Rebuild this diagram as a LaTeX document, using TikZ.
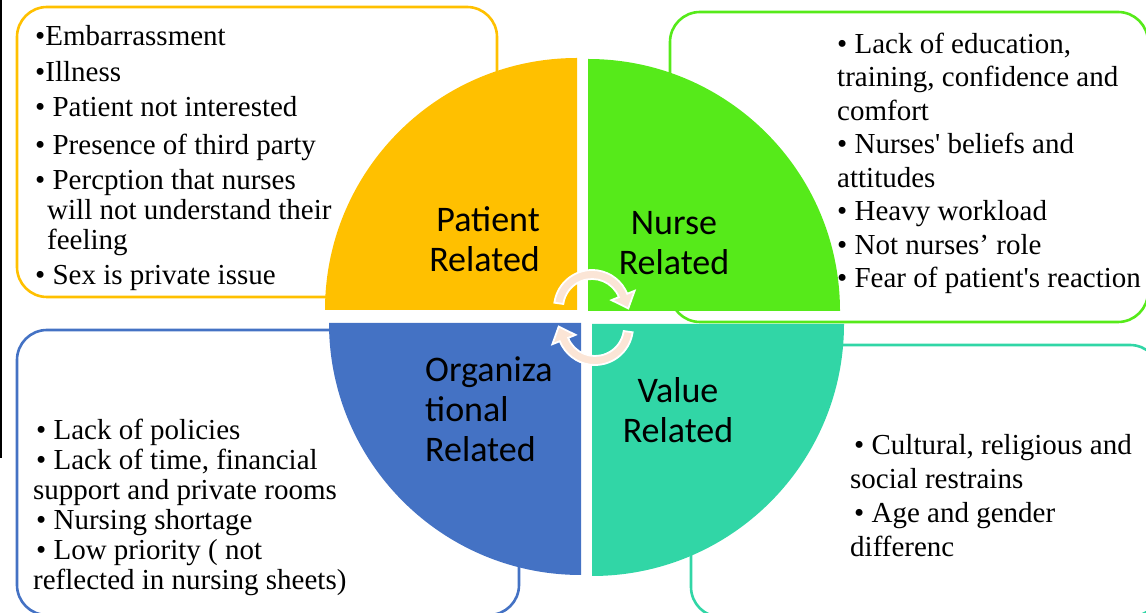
\documentclass[tikz,border=0pt]{standalone}
\usepackage{fontspec}
\setmainfont{Liberation Serif}
\newfontfamily\labelfont{Carlito}
\usetikzlibrary{calc}
\definecolor{patyellow}{RGB}{255,192,0}
\definecolor{nurgreen}{RGB}{86,234,26}
\definecolor{orgblue}{RGB}{68,114,196}
\definecolor{valteal}{RGB}{49,214,166}
\definecolor{cyclepeach}{RGB}{251,229,214}

\begin{document}
\begin{tikzpicture}[x=1pt,y=1pt]
	\tikzstyle{listbox} = [rounded corners=30pt,line width=2.6pt];
	\tikzstyle{listtext} = [anchor=base west,align=left,inner sep=0pt];
	\tikzstyle{sectorlabel} = [font=\labelfont\fontsize{36}{40}\selectfont,inner sep=0pt];
	\tikzstyle{cyclearrow} = [fill=cyclepeach,draw=white,line width=1.8pt];
	\useasboundingbox (0,0) rectangle (1146,613);
	\clip (0,0) rectangle (1146,613);
	% outlined boxes behind the circle
	\draw[listbox,draw=patyellow] (17,316) rectangle (497,606);
	\draw[listbox,draw=nurgreen] (670,291) rectangle (1148,601);
	\draw[listbox,draw=orgblue] (17,-2) rectangle (519,283);
	\draw[listbox,draw=valteal] (691,-4) rectangle (1160,268);
	\draw[line width=1.8pt] (0.9,613) -- (0.9,155);
	% lists (base = last line)
	\node[listtext,font=\fontsize{29}{30}\selectfont] (patlist) at (35,328) {•Embarrassment\\[6pt]•Illness\\[5pt]• Patient not interested\\[8pt]• Presence of third party\\[5pt]• Percption that nurses\\\hspace*{12pt}will not understand their\\\hspace*{12pt}feeling\\[5pt]• Sex is private issue};
	\node[listtext,font=\fontsize{29}{33.5}\selectfont] (nurlist) at (837,325) {• Lack of education,\\training, confidence and\\comfort\\• Nurses\textquotesingle{} beliefs and\\attitudes\\• Heavy workload\\• Not nurses’ role\\• Fear of patient\textquotesingle{}s reaction};
	\node[listtext,font=\fontsize{29}{30}\selectfont] (orglist) at (33,23) {\hspace*{3pt}• Lack of policies\\\hspace*{3pt}• Lack of time, financial\\support and private rooms\\\hspace*{3pt}• Nursing shortage\\\hspace*{3pt}• Low priority ( not\\reflected in nursing sheets)};
	\node[listtext,font=\fontsize{29}{34}\selectfont] (vallist) at (850,56) {\hspace*{4pt}• Cultural, religious and\\social restrains\\\hspace*{4pt}• Age and gender\\differenc};
	% the four quarters
	\fill[patyellow] (577,303) -- ++(-252,0) arc[start angle=180,end angle=90,radius=252] -- cycle;
	\fill[nurgreen] (588,302) -- ++(0,252) arc[start angle=90,end angle=0,radius=252] -- cycle;
	\fill[orgblue] (581,290) -- ++(-252,0) arc[start angle=180,end angle=270,radius=252] -- cycle;
	\fill[valteal] (592,289) -- ++(252,0) arc[start angle=0,end angle=-90,radius=252] -- cycle;
	\node[sectorlabel,align=right,anchor=base east] (pat) at (540,341) {Patient\\Related};
	\node[sectorlabel,align=center,anchor=base] (nur) at (674,338) {Nurse\\Related};
	\node[sectorlabel,align=left,anchor=base west] (org) at (425,151) {Organiza\\tional\\Related};
	\node[sectorlabel,align=center,anchor=base] (val) at (678,170) {Value\\Related};
	% cycle arrows
	\coordinate (uc) at (592,305);
	\coordinate (lc) at (595,286);
	\path[cyclearrow] ($(uc)+(172:38)$) arc[start angle=172,end angle=22,radius=38]
		-- ($(uc)+(22:46)$) -- ($(uc)+(22:33.5)+(-68:14)$) -- ($(uc)+(22:21)$)
		-- ($(uc)+(22:29)$) arc[start angle=22,end angle=172,radius=29] -- cycle;
	\path[cyclearrow] ($(lc)+(-8:38)$) arc[start angle=-8,end angle=-158,radius=38]
		-- ($(lc)+(-158:46)$) -- ($(lc)+(-158:33.5)+(112:14)$) -- ($(lc)+(-158:21)$)
		-- ($(lc)+(-158:29)$) arc[start angle=-158,end angle=-8,radius=29] -- cycle;
\end{tikzpicture}
\end{document}
